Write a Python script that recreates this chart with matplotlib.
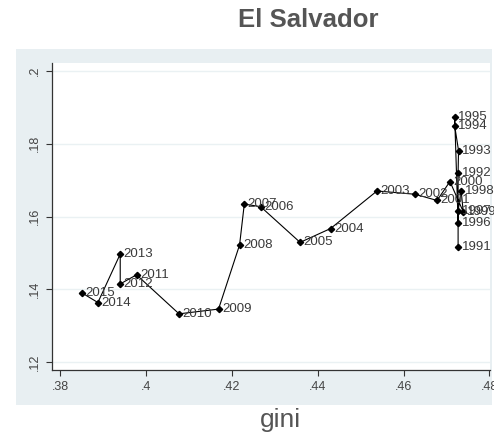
import matplotlib.pyplot as plt
from matplotlib.patches import Rectangle

plt.rcParams['font.family'] = ['Liberation Sans', 'DejaVu Sans']

# gini vs. y by year, El Salvador
years = list(range(1991, 2016))
gini = [0.4727, 0.4727, 0.4728, 0.4719, 0.4719,
        0.4727, 0.4727, 0.4734, 0.4739, 0.4708,
        0.4678, 0.4627, 0.4538, 0.4430, 0.4359,
        0.4267, 0.4229, 0.4218, 0.4169, 0.4077,
        0.3978, 0.3940, 0.3940, 0.3888, 0.3850]
yval = [0.1517, 0.1720, 0.1781, 0.1849, 0.1874,
        0.1583, 0.1615, 0.1671, 0.1613, 0.1696,
        0.1644, 0.1661, 0.1670, 0.1567, 0.1529,
        0.1627, 0.1634, 0.1522, 0.1346, 0.1333,
        0.1440, 0.1415, 0.1497, 0.1364, 0.1391]

xticks = [0.38, 0.40, 0.42, 0.44, 0.46, 0.48]
xticklabels = ['.38', '.4', '.42', '.44', '.46', '.48']
yticks = [0.12, 0.14, 0.16, 0.18, 0.20]
yticklabels = ['.12', '.14', '.16', '.18', '.2']

W, H = 494, 433
fig = plt.figure(figsize=(W / 100, H / 100), dpi=100)
fig.patch.set_facecolor('white')

# light panel behind the plot
fig.patches.append(Rectangle((16 / W, 1 - 405 / H), (492 - 16) / W, (405 - 49) / H,
                             transform=fig.transFigure, facecolor='#e8eff2',
                             edgecolor='none', zorder=-10))

ax = fig.add_axes([52 / W, 1 - 370 / H, (490 - 52) / W, (370 - 63) / H])
ax.set_facecolor('white')

ax.plot(gini, yval, color='black', lw=0.8, marker='D', ms=3.2,
        mfc='black', mec='black', zorder=3)
for g, v, yr in zip(gini, yval, years):
    ax.annotate(str(yr), (g, v), xytext=(2.5, 0), textcoords='offset points',
                ha='left', va='center', fontsize=9.5, color='#3a3a3a', zorder=4)

ax.set_xlim(0.37811, 0.48013)
ax.set_ylim(0.11789, 0.20211)
ax.set_xticks(xticks)
ax.set_xticklabels(xticklabels)
ax.set_yticks(yticks)
ax.set_yticklabels(yticklabels, rotation=90, va='center')
ax.tick_params(axis='both', direction='out', length=4, width=0.8,
               color='#333333', labelcolor='#444444', labelsize=9, pad=4)
ax.grid(axis='y', color='#eaf1f3', lw=1)
ax.set_axisbelow(True)
for s in ['top', 'right']:
    ax.spines[s].set_visible(False)
for s in ['left', 'bottom']:
    ax.spines[s].set_color('#333333')
    ax.spines[s].set_linewidth(0.9)

fig.text(308 / W, 1 - 27.3 / H, 'El Salvador', ha='center', va='baseline',
         fontsize=18.5, fontweight='bold', color='#555555')
fig.text(280 / W, 1 - 426.5 / H, 'gini', ha='center', va='baseline',
         fontsize=19, color='#555555')

fig.savefig('out.png', dpi=100)
